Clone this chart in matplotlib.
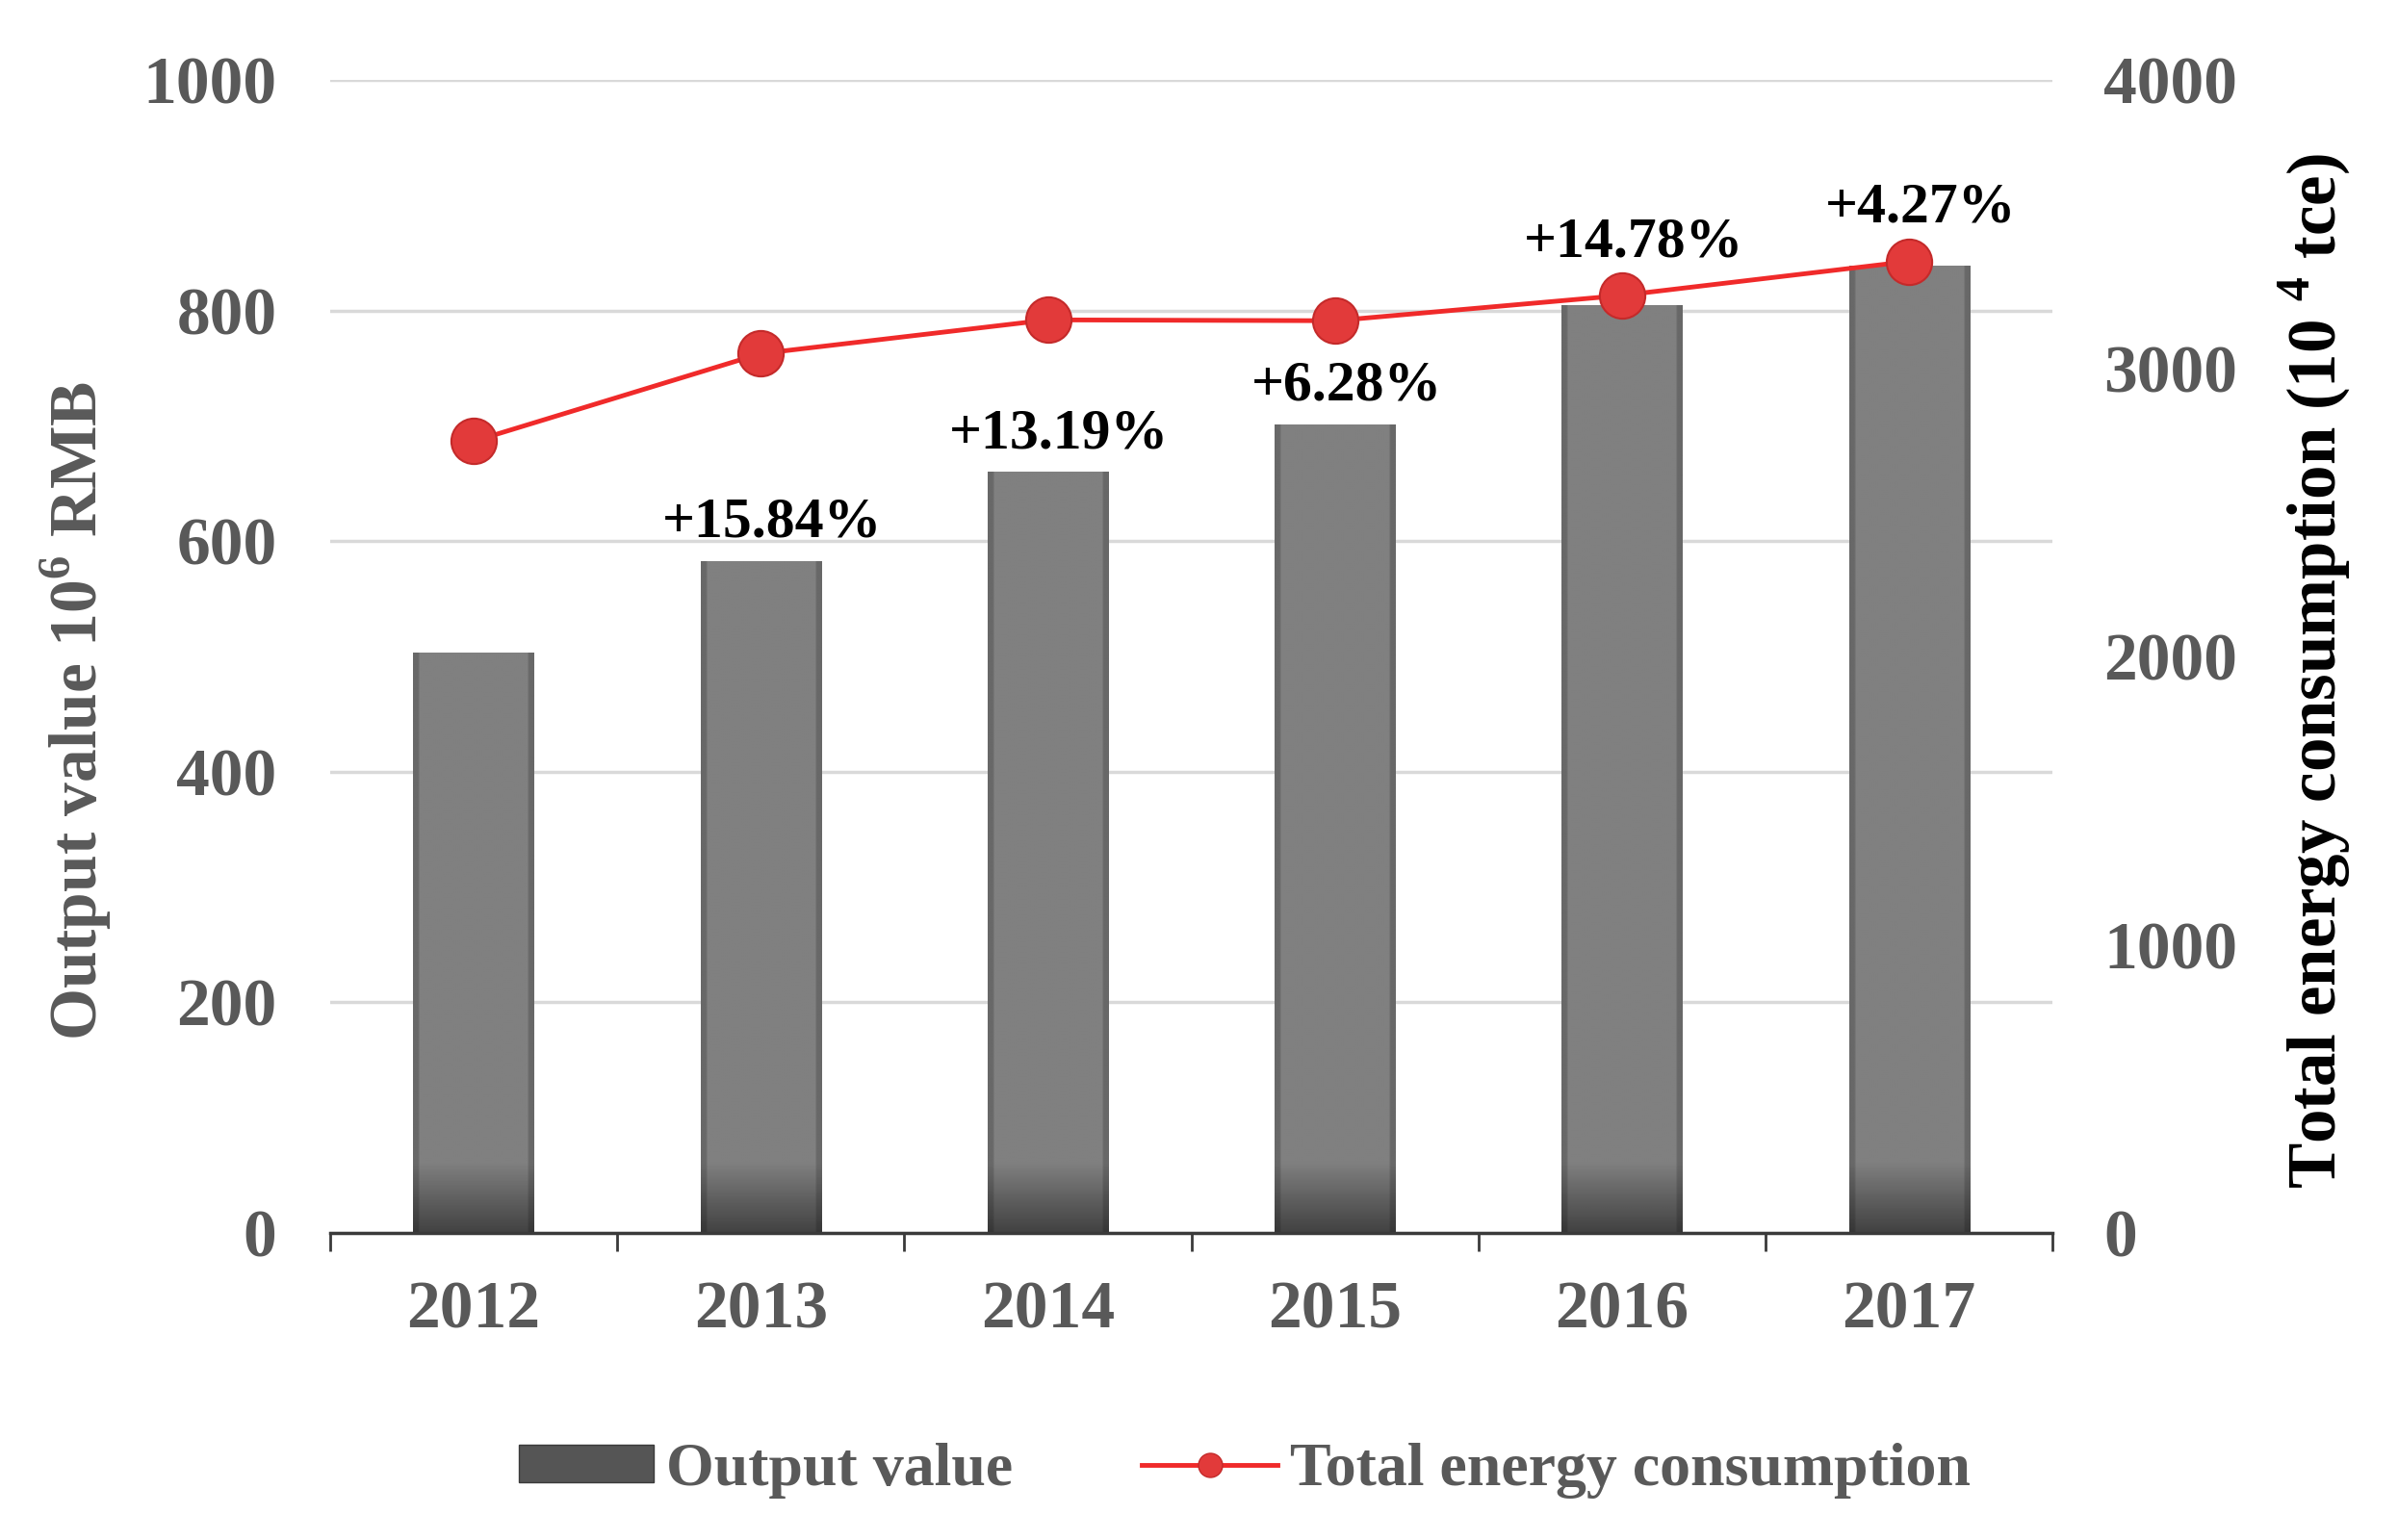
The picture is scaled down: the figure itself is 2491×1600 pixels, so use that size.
import numpy as np
import matplotlib
matplotlib.use("Agg")
import matplotlib.pyplot as plt
from matplotlib.patches import Patch
from matplotlib.lines import Line2D

plt.rcParams['font.family'] = ['Liberation Serif', 'DejaVu Serif']
plt.rcParams['mathtext.fontset'] = 'custom'
plt.rcParams['mathtext.rm'] = 'Liberation Serif'
plt.rcParams['mathtext.bf'] = 'Liberation Serif:bold'

# data
years = ['2012', '2013', '2014', '2015', '2016', '2017']
output_value = [503.0, 582.7, 659.6, 701.0, 804.6, 839.0]          # 10^6 RMB
energy = [2747, 3051, 3168, 3165, 3253, 3371]                       # 10^4 tce
growth = ['', '+15.84%', '+13.19%', '+6.28%', '+14.78%', '+4.27%']

GRAY_TXT = '#595959'
RED = '#f02a2a'


def gradient_bar(ax, x, h, w):
    """ bar with a darker foot, like the office chart """
    yy = np.linspace(0, h, 400)
    shade = np.clip(yy / 60.0, 0, 1)
    base = 0.26 + (0.50 - 0.26) * shade
    xx = np.linspace(-1, 1, 60)
    edge = 1 - 0.18 * (np.abs(xx) > 0.93)
    img = base[:, None] * edge[None, :]
    ax.imshow(img, extent=(x - w / 2, x + w / 2, 0, h), origin='lower',
              cmap='gray', vmin=0, vmax=1, aspect='auto', zorder=2,
              interpolation='bilinear')


fig = plt.figure(figsize=(24.91, 16), dpi=100)
ax = fig.add_axes([0.1377, 0.1994, 0.856 - 0.1377, 0.948 - 0.1994])

x = np.arange(len(years))
bw = 0.42
for xi, v in zip(x, output_value):
    gradient_bar(ax, xi, v, bw)

ax.set_xlim(-0.5, len(years) - 0.5)
ax.set_ylim(0, 1000)
ax.set_yticks(np.arange(0, 1001, 200))
ax.yaxis.grid(True, color='#d9d9d9', lw=2.5, zorder=0)
ax.set_axisbelow(True)

for s in ['left', 'right', 'top']:
    ax.spines[s].set_visible(False)
ax.spines['bottom'].set_color('#3a3a3a')
ax.spines['bottom'].set_linewidth(2.5)
ax.spines['bottom'].set_zorder(3)

ax.set_xticks(x)
ax.set_xticklabels(years)
ax.set_xticks(np.arange(-0.5, len(years)), minor=True)
ax.tick_params(axis='x', which='major', length=0, pad=36, labelsize=50, labelcolor=GRAY_TXT)
ax.tick_params(axis='x', which='minor', length=14, width=2, color='#3a3a3a')
ax.tick_params(axis='y', length=0, pad=40, labelsize=50, labelcolor=GRAY_TXT)
for lab in ax.get_xticklabels() + ax.get_yticklabels():
    lab.set_fontweight('bold')
ax.set_ylabel(r'Output value 10$^{\mathbf{6}}$ RMB', fontsize=50, fontweight='bold',
              color=GRAY_TXT)
ax.yaxis.set_label_coords(-0.126, 0.453)

ax2 = ax.twinx()
ax2.plot(x, energy, color=RED, lw=3.5, marker='o', ms=34,
         markerfacecolor='#e23a3a', markeredgecolor='#c42a2a', markeredgewidth=1.5, zorder=5)
ax2.set_ylim(0, 4000)
ax2.set_yticks(np.arange(0, 4001, 1000))
for s in ['left', 'right', 'top', 'bottom']:
    ax2.spines[s].set_visible(False)
ax2.tick_params(axis='y', length=0, pad=38, labelsize=50, labelcolor=GRAY_TXT)
for lab in ax2.get_yticklabels():
    lab.set_fontweight('bold')
ax2.set_ylabel(r'Total energy consumption (10 $^{\mathbf{4}}$ tce)', fontsize=51,
               fontweight='bold', color='black')
ax2.yaxis.set_label_coords(1.13, 0.487)

# growth labels just above the bar, or above the marker where it sits on the bar
for xi, v, e, g in zip(x, output_value, energy, growth):
    if not g:
        continue
    line_left = e / 4.0
    if line_left - v > 40:
        top, off = v, 9
    else:
        top, off = max(v, line_left), 20
    ax.annotate(g, (xi + 0.04, top), xytext=(0, off), textcoords='offset points',
                ha='center', va='bottom', fontsize=43, fontweight='bold',
                color='black', zorder=6)

handles = [Patch(facecolor='#555555', edgecolor='#3a3a3a'),
           Line2D([0], [0], color=RED, lw=3.5, marker='o', ms=18,
                  markerfacecolor='#e23a3a', markeredgecolor='#c42a2a')]
leg = fig.legend(handles, ['Output value', 'Total energy consumption'],
                 loc='center', bbox_to_anchor=(0.519, 0.045), ncol=2, frameon=False,
                 fontsize=46, handlelength=2.2, handleheight=0.55, handletextpad=0.2,
                 columnspacing=2.1)
for t in leg.get_texts():
    t.set_color(GRAY_TXT)
    t.set_fontweight('bold')

fig.savefig('out.png', dpi=100)
